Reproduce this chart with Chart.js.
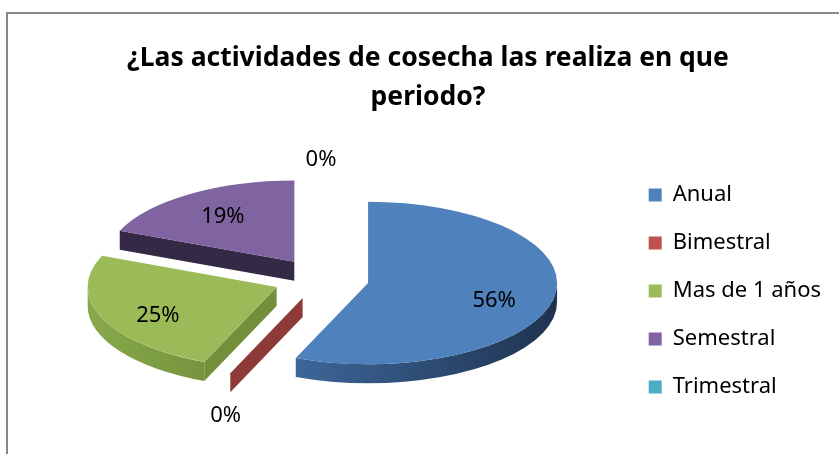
<!DOCTYPE html>
<html lang="es">
<head>
    <meta charset="UTF-8">
    <title>Periodo de cosecha</title>
    <style>
        body {
            margin: 0;
            background: #fff;
            overflow: hidden;
            font-family: "Noto Sans", sans-serif;
        }

        .frame {
            position: absolute;
            left: 6px;
            top: 12px;
            width: 900px;
            height: 500px;
            border: 2px solid #878787;
        }

        #wrap {
            position: absolute;
            left: 0;
            top: 0;
            width: 839px;
            height: 454px;
        }
    </style>
</head>
<body>
    <div class="frame"></div>
    <div id="wrap"><canvas id="pieChart"></canvas></div>

    <script src="https://cdn.jsdelivr.net/npm/chart.js"></script>
    <script>
        const categories = ['Anual', 'Bimestral', 'Mas de 1 años', 'Semestral', 'Trimestral'];
        const respuestas = [9, 0, 4, 3, 0];
        const chartTitle = ['¿Las actividades de cosecha las realiza en que', 'periodo?'];

        // colours: top face, curved side (light -> dark), flat side
        const topColors = ['#4f81bd', '#c0504d', '#9bbb59', '#8064a2', '#4bacc6'];
        const rimColors = [['#3d6699', '#1f3350'], ['#a0413e', '#7a302e'], ['#87a94b', '#76943e'],
                           ['#3d3050', '#2e2439'], ['#3a8fa6', '#2a6c7e']];
        const wallColors = ['#2a4a74', '#8d3a38', '#738f3a', '#352a45', '#2f8096'];

        // fake 3D look: pie squashed vertically, slices pulled apart, with a side wall
        const PIE = { cx: 321, cy: 279, k: 0.43, depth: 19, explode: 48 };

        function slicesOf(chart) {
            return chart.getDatasetMeta(0).data.map((arc, i) => {
                const p = arc.getProps(['x', 'y', 'startAngle', 'endAngle', 'outerRadius'], true);
                const mid = (p.startAngle + p.endAngle) / 2;
                return {
                    i, arc, p, mid,
                    cx: PIE.cx + PIE.explode * Math.cos(mid),
                    cy: PIE.cy + PIE.explode * PIE.k * Math.sin(mid)
                };
            });
        }

        function drawSlice(ctx, s) {
            const { p, cx, cy, i } = s;
            const rx = p.outerRadius, ry = rx * PIE.k, d = PIE.depth;
            const rim = a => [cx + rx * Math.cos(a), cy + ry * Math.sin(a)];

            // flat side walls that face the viewer
            const walls = [];
            if (Math.cos(p.startAngle) < -0.01) walls.push(p.startAngle);
            if (Math.cos(p.endAngle) > 0.01) walls.push(p.endAngle);
            ctx.fillStyle = wallColors[i];
            walls.forEach(a => {
                const [x, y] = rim(a);
                ctx.beginPath();
                ctx.moveTo(cx, cy);
                ctx.lineTo(x, y);
                ctx.lineTo(x, y + d);
                ctx.lineTo(cx, cy + d);
                ctx.closePath();
                ctx.fill();
            });

            // curved side on the front half
            [[0, Math.PI], [2 * Math.PI, 3 * Math.PI]].forEach(([lo, hi]) => {
                const a1 = Math.max(p.startAngle, lo), a2 = Math.min(p.endAngle, hi);
                if (a2 - a1 < 0.001) return;
                const xa = rim(a1)[0], xb = rim(a2)[0];
                const grad = ctx.createLinearGradient(Math.min(xa, xb), 0, Math.max(xa, xb), 0);
                grad.addColorStop(0, rimColors[i][0]);
                grad.addColorStop(1, rimColors[i][1]);
                ctx.fillStyle = grad;
                ctx.beginPath();
                ctx.ellipse(cx, cy, rx, ry, 0, a1, a2);
                ctx.ellipse(cx, cy + d, rx, ry, 0, a2, a1, true);
                ctx.closePath();
                ctx.fill();
            });

            // top face drawn by the arc element itself, squashed
            ctx.save();
            ctx.translate(cx, cy);
            ctx.scale(1, PIE.k);
            ctx.translate(-p.x, -p.y);
            s.arc.draw(ctx);
            ctx.restore();
        }

        const pie3d = {
            id: 'pie3d',
            beforeDatasetsDraw(chart) {
                const slices = slicesOf(chart).sort((a, b) => a.cy - b.cy);
                slices.forEach(s => drawSlice(chart.ctx, s));
                return false;
            },
            afterDraw(chart) {
                const ctx = chart.ctx;
                const total = respuestas.reduce((a, b) => a + b, 0);
                ctx.save();
                ctx.font = '22px "Noto Sans"';
                ctx.fillStyle = '#000';
                ctx.textAlign = 'center';
                ctx.textBaseline = 'middle';
                slicesOf(chart).forEach(s => {
                    const v = respuestas[s.i];
                    const rx = s.p.outerRadius, ry = rx * PIE.k;
                    const c = Math.cos(s.mid), sn = Math.sin(s.mid);
                    let x, y;
                    if (v > 0) {
                        x = s.cx + 0.68 * rx * c;
                        y = s.cy + 0.75 * ry * sn + 6;
                    } else {
                        // zero slices: label outside the rim
                        x = s.cx + rx * c + 12 * c;
                        y = s.cy + ry * sn + 17 * sn + (sn > 0 ? PIE.depth + 8 : 0);
                    }
                    ctx.fillText(Math.round(v / total * 100) + '%', x, y);
                });
                ctx.restore();
            }
        };

        const ctx = document.getElementById('pieChart').getContext('2d');
        const chart = new Chart(ctx, {
            type: 'pie',
            data: {
                labels: categories,
                datasets: [{
                    data: respuestas,
                    backgroundColor: topColors,
                    borderWidth: 0,
                    radius: 189
                }]
            },
            options: {
                responsive: true,
                maintainAspectRatio: false,
                animation: false,
                events: [],
                layout: { padding: { left: 25, right: 8, top: 0, bottom: 0 } },
                plugins: {
                    title: {
                        display: true,
                        text: chartTitle,
                        color: '#000',
                        font: { family: 'Noto Sans', size: 26.5, weight: 'bold', lineHeight: 1.47 },
                        padding: { top: 39, bottom: 11 }
                    },
                    legend: {
                        position: 'right',
                        fullSize: false,
                        labels: {
                            color: '#000',
                            font: { family: 'Noto Sans', size: 22 },
                            boxWidth: 13,
                            boxHeight: 13,
                            padding: 26
                        }
                    },
                    tooltip: { enabled: false }
                }
            },
            plugins: [pie3d]
        });
    </script>
</body>
</html>
